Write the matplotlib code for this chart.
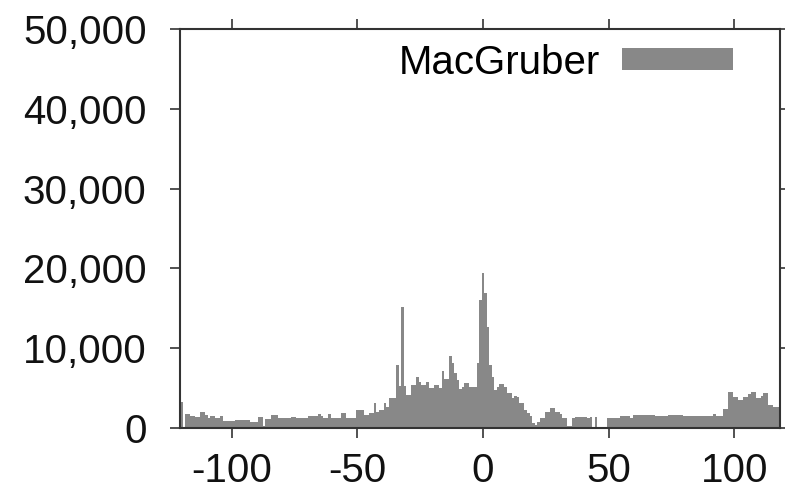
import matplotlib
matplotlib.use("Agg")
import matplotlib.pyplot as plt
import numpy as np
from matplotlib.ticker import FuncFormatter

plt.rcParams['font.family'] = ['Liberation Sans', 'DejaVu Sans']
plt.rcParams['axes.unicode_minus'] = False

# bin centres and counts
centers = np.arange(-120, 120)
counts = [
    3250, 150, 1750, 1750, 1500, 1500, 1350, 1350, 2000, 2000,
    1600, 1250, 1500, 1500, 1250, 1250, 1500, 900, 900, 900,
    900, 900, 1000, 1000, 1000, 1000, 1000, 1000, 750, 750,
    750, 1400, 1400, 300, 1100, 1100, 1600, 1600, 1600, 1200,
    1200, 1200, 1200, 1200, 1400, 1400, 1200, 1200, 1200, 1200,
    1200, 1450, 1450, 1450, 1450, 1800, 1450, 1300, 1300, 1700,
    1300, 1300, 1300, 1300, 1900, 1900, 1300, 1300, 1300, 1300,
    2250, 2250, 2250, 1600, 1600, 1900, 1900, 3100, 2000, 2250,
    2250, 3100, 2600, 3750, 3750, 3750, 7900, 5200, 15100, 5200,
    4100, 4100, 5400, 5400, 6400, 5750, 5400, 5400, 5750, 5000,
    5000, 5400, 5400, 5000, 7100, 6200, 6200, 9000, 8100, 6900,
    6000, 4900, 5100, 5600, 5600, 5100, 5100, 5100, 8100, 16000,
    19400, 16900, 12600, 7900, 6400, 4750, 5100, 5500, 5500, 5100,
    4400, 4400, 3750, 4000, 3900, 3100, 3100, 2250, 1900, 1500,
    600, 400, 800, 1250, 1250, 2000, 2000, 2500, 2500, 2000,
    2000, 1800, 1250, 1250, 200, 200, 1200, 1400, 1400, 1400,
    1400, 1400, 1200, 1400, 0, 1400, 0, 0, 0, 0,
    1250, 1250, 1250, 1250, 1250, 1500, 1500, 1500, 1500, 1250,
    1600, 1600, 1600, 1600, 1600, 1600, 1600, 1600, 1600, 1500,
    1500, 1500, 1500, 1500, 1600, 1600, 1600, 1600, 1600, 1600,
    1500, 1500, 1500, 1500, 1500, 1450, 1450, 1450, 1450, 1450,
    1450, 1450, 1800, 1500, 1500, 1500, 2400, 2400, 4500, 4500,
    3900, 3900, 3500, 3500, 3900, 3900, 4200, 4500, 4500, 3700,
    3700, 4000, 4400, 4400, 2900, 2900, 2600, 2600, 2600, 2600,
]
xticks = [-100, -50, 0, 50, 100]
yticks = [0, 10000, 20000, 30000, 40000, 50000]

fig = plt.figure(figsize=(7.85, 4.99), dpi=100)
ax = fig.add_axes([0.2293, 0.1423, 0.7643, 0.7996])

ax.bar(centers, counts, width=1.0, align='center', color='#888888',
       linewidth=0, label='MacGruber')

ax.set_xlim(-120.5, 118.1)
ax.set_ylim(0, 50000)
ax.set_xticks(xticks)
ax.set_yticks(yticks)
ax.yaxis.set_major_formatter(FuncFormatter(lambda v, p: f'{int(v):,}'))

ax.tick_params(direction='out', length=7, width=1.2, labelsize=29,
               top=True, right=True, labeltop=False, labelright=False,
               color='#333333', labelcolor='#111111')
ax.tick_params(axis='y', pad=17)
ax.tick_params(axis='x', pad=10)
for s in ax.spines.values():
    s.set_linewidth(1.5)
    s.set_color('#333333')

ax.legend(loc='upper right', frameon=False, markerfirst=False,
          fontsize=29, handlelength=2.75, handleheight=0.46,
          handletextpad=0.55, borderpad=0, borderaxespad=0,
          bbox_to_anchor=(0.922, 0.963))

fig.savefig('out.png', dpi=100)
